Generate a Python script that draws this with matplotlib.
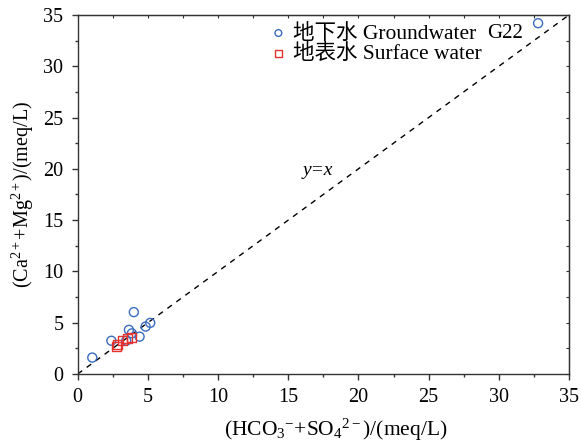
import numpy as np
import matplotlib
matplotlib.use("Agg")
import matplotlib.pyplot as plt
from matplotlib.ticker import MultipleLocator

plt.rcParams['font.family'] = ['Liberation Serif', 'Noto Sans CJK SC']
plt.rcParams['mathtext.fontset'] = 'custom'
plt.rcParams['mathtext.rm'] = 'Liberation Serif'
plt.rcParams['mathtext.it'] = 'Liberation Serif:italic'

# groundwater samples (HCO3+SO4 vs Ca+Mg, meq/L)
gw_x = [1.04, 2.4, 4.0, 3.65, 3.86, 4.41, 4.84, 5.17, 3.46, 32.8]
gw_y = [1.6, 3.24, 6.03, 4.3, 3.96, 3.64, 4.62, 4.98, 3.24, 34.2]
# surface water samples
sw_x = [2.75, 2.87, 3.22, 3.58, 3.82]
sw_y = [2.65, 2.92, 3.31, 3.41, 3.57]

fig = plt.figure(figsize=(5.81, 4.41), dpi=100)
ax = fig.add_axes([0.1337, 0.152, 0.8456, 0.814])

ax.plot([0, 35], [0, 35], 'k--', lw=1, dashes=(4, 4))
ax.scatter(gw_x, gw_y, s=42, facecolors='none', edgecolors='#3a6cc0', lw=1,
           label='地下水 Groundwater', zorder=3)
ax.scatter(sw_x, sw_y, s=42, marker='s', facecolors='none', edgecolors='#e53430',
           lw=1, label='地表水 Surface water', zorder=3)

ax.text(31.75, 33.2, 'G22', fontsize=15, ha='right', va='center')
ax.text(17.1, 19.8, 'y=x', fontsize=14, style='italic', ha='center', va='center')

ax.set_xlim(0, 35)
ax.set_ylim(0, 35)
ax.xaxis.set_major_locator(MultipleLocator(5))
ax.yaxis.set_major_locator(MultipleLocator(5))
ax.xaxis.set_minor_locator(MultipleLocator(2.5))
ax.yaxis.set_minor_locator(MultipleLocator(2.5))
ax.tick_params(which='both', direction='out', labelsize=14.5, color='#333333')
ax.tick_params(which='major', length=4.3, width=1.0, pad=6)
ax.tick_params(which='minor', length=2.5, width=1.0)
for s in ax.spines.values():
    s.set_color('#333333')
    s.set_linewidth(1.0)

# inward ticks on top and right
axt = ax.secondary_xaxis('top')
axt.xaxis.set_major_locator(MultipleLocator(2.5))
axt.tick_params(direction='in', length=2.5, labeltop=False, color='#333333')
axr = ax.secondary_yaxis('right')
axr.yaxis.set_major_locator(MultipleLocator(2.5))
axr.tick_params(direction='in', length=2.5, labelright=False, color='#333333')

ax.set_xlabel(r'(HCO$_3{}^{-}$+SO$_4{}^{2-}$)/(meq/L)', fontsize=15.5)
ax.xaxis.set_label_coords(0.526, -0.118)
ax.xaxis.label.set_va('top')
ax.set_ylabel(r'(Ca$^{2+}$+Mg$^{2+}$)/(meq/L)', fontsize=14.5, labelpad=5)

ax.legend(loc='upper left', bbox_to_anchor=(0.356, 1.018), frameon=False,
          fontsize=15.5, handletextpad=0.2, borderaxespad=0.3, labelspacing=0.0,
          handlelength=1.0, markerscale=0.75)

fig.savefig('out.png', dpi=100)
